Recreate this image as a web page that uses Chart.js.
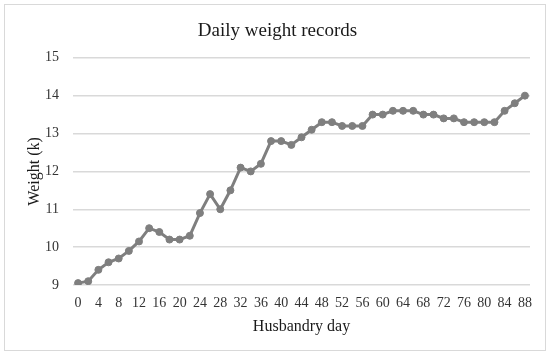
<!DOCTYPE html>
<html>
<head>
<meta charset="utf-8">
<script src="https://cdn.jsdelivr.net/npm/chart.js@4"></script>
<style>
  body { margin: 0; background: #fff; }
  #wrap { position: absolute; left: 4px; top: 4px; width: 540px; height: 345px; border: 1px solid #d9d9d9; }
</style>
</head>
<body>
<div id="wrap"><canvas id="chart" width="540" height="345"></canvas></div>
<script>
// husbandry days 0..88, weighed every second day
const days = [0,2,4,6,8,10,12,14,16,18,20,22,24,26,28,30,32,34,36,38,40,42,44,
  46,48,50,52,54,56,58,60,62,64,66,68,70,72,74,76,78,80,82,84,86,88];
const weights = [9.05,9.1,9.4,9.6,9.7,9.9,10.15,10.5,10.4,10.2,10.2,10.3,10.9,11.4,11.0,
  11.5,12.1,12.0,12.2,12.8,12.8,12.7,12.9,13.1,13.3,13.3,13.2,13.2,13.2,13.5,13.5,
  13.6,13.6,13.6,13.5,13.5,13.4,13.4,13.3,13.3,13.3,13.3,13.6,13.8,14.0];
const yTicks = [9,10,11,12,13,14,15];

const serif = "'Liberation Serif', 'DejaVu Serif', serif";
const textColor = '#333333';

const ctx = document.getElementById('chart').getContext('2d');
new Chart(ctx, {
  type: 'line',
  data: {
    labels: days,
    datasets: [{
      label: 'Weight',
      data: weights,
      borderColor: '#7f7f7f',
      backgroundColor: '#7f7f7f',
      borderWidth: 3,
      pointRadius: 3.5,
      pointBorderWidth: 1,
      pointHoverRadius: 3.5,
      tension: 0
    }]
  },
  options: {
    responsive: false,
    animation: false,
    layout: { padding: { left: 20, right: 15, top: 5, bottom: 14 } },
    plugins: {
      legend: { display: false },
      tooltip: { enabled: false },
      title: {
        display: true,
        text: 'Daily weight records',
        color: '#1a1a1a',
        font: { family: serif, size: 19, weight: 'normal' },
        padding: { top: 10, bottom: 15 }
      }
    },
    scales: {
      x: {
        offset: true,
        afterFit: function (axis) { axis.height = 51; },
        grid: { display: false, drawTicks: false },
        border: { display: false },
        ticks: {
          autoSkip: false,
          maxRotation: 0,
          padding: 10,
          color: textColor,
          font: { family: serif, size: 14 },
          callback: function (v, i) { return i % 2 === 0 ? days[i] : ''; }
        },
        title: {
          display: true,
          text: 'Husbandry day',
          color: '#1a1a1a',
          font: { family: serif, size: 16 },
          padding: 0
        }
      },
      y: {
        min: yTicks[0],
        max: yTicks[yTicks.length - 1],
        afterBuildTicks: function (axis) { axis.ticks = yTicks.map(v => ({ value: v })); },
        afterFit: function (axis) { axis.width = 48; },
        grid: { color: '#d9d9d9', lineWidth: 1.5, drawTicks: false },
        border: { display: false },
        ticks: {
          padding: 14,
          color: textColor,
          font: { family: serif, size: 14 }
        },
        title: {
          display: true,
          text: 'Weight (k)',
          color: '#1a1a1a',
          font: { family: serif, size: 16 },
          padding: 0
        }
      }
    }
  }
});
</script>
</body>
</html>
